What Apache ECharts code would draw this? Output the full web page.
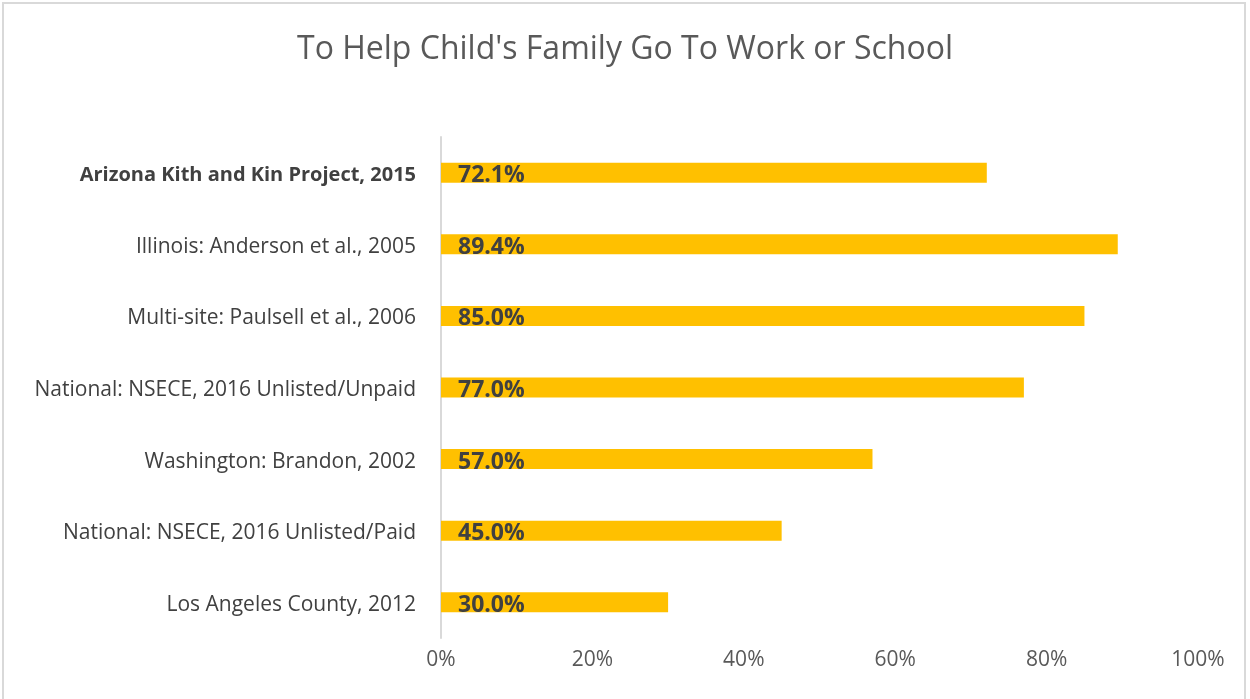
<!DOCTYPE html>
<html>
<head>
<meta charset="utf-8">
<script src="https://cdn.jsdelivr.net/npm/echarts@6/dist/echarts.min.js"></script>
<style>
html,body{margin:0;padding:0;background:#fff;}
#wrap{position:absolute;left:0;top:0;width:1250px;height:699px;}
#frame{position:absolute;left:2px;top:2px;width:1244px;height:700px;border:2px solid #d9d9d9;box-sizing:border-box;}
#chart{position:absolute;left:0;top:0;width:1250px;height:699px;}
</style>
</head>
<body>
<div id="wrap"><div id="chart"></div><div id="frame"></div></div>
<script>
const titleText = "To Help Child's Family Go To Work or School";
const categories = [
  "Arizona Kith and Kin Project, 2015",
  "Illinois: Anderson et al., 2005",
  "Multi-site: Paulsell et al., 2006",
  "National: NSECE, 2016 Unlisted/Unpaid",
  "Washington: Brandon, 2002",
  "National: NSECE, 2016 Unlisted/Paid",
  "Los Angeles County, 2012"
];
const values = [72.1, 89.4, 85.0, 77.0, 57.0, 45.0, 30.0];
const xTicks = [0, 20, 40, 60, 80, 100];

const chart = echarts.init(document.getElementById('chart'));
chart.setOption({
  animation: false,
  backgroundColor: '#ffffff',
  title: {
    text: titleText,
    left: 'center',
    top: 29,
    textStyle: {fontFamily: 'Open Sans', fontSize: 32, fontWeight: 'normal', color: '#595959'}
  },
  grid: {left: 441, right: 52, top: 137, bottom: 61, containLabel: false},
  xAxis: {
    type: 'value',
    min: xTicks[0],
    max: xTicks[xTicks.length - 1],
    interval: 20,
    axisLine: {show: false},
    axisTick: {show: false},
    splitLine: {show: false},
    axisLabel: {
      margin: 12,
      formatter: v => v + '%',
      fontFamily: 'Open Sans', fontSize: 21, color: '#595959'
    }
  },
  yAxis: {
    type: 'category',
    inverse: true,
    data: categories,
    axisLine: {show: true, lineStyle: {color: '#d9d9d9', width: 2}},
    axisTick: {show: false},
    axisLabel: {
      margin: 25,
      padding: [5, 0, 0, 0],
      fontFamily: 'Open Sans', fontSize: 21, color: '#404040',
      formatter: (v, i) => i === 0 ? '{b|' + v + '}' : v,
      rich: {b: {fontFamily: 'Open Sans', fontSize: 20, fontWeight: 'bold', color: '#404040'}}
    }
  },
  series: [{
    type: 'bar',
    data: values,
    barWidth: 20,
    itemStyle: {color: '#ffc000'},
    label: {
      show: true,
      position: 'insideLeft',
      offset: [12, 3],
      formatter: p => p.value.toFixed(1) + '%',
      fontFamily: 'Open Sans', fontSize: 23, fontWeight: 'bold', color: '#404040'
    }
  }]
});
</script>
</body>
</html>
